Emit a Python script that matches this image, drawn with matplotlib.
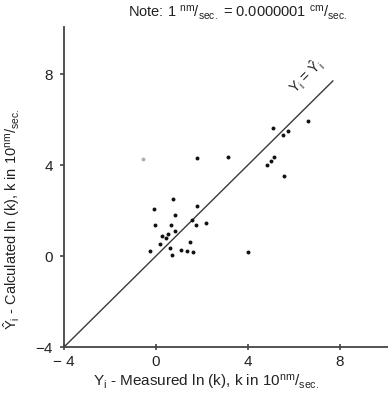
import matplotlib
matplotlib.use("Agg")
import matplotlib.pyplot as plt

# Measured (x) vs calculated (y) ln(k)
measured = [1.77, 3.12, 0.75, -0.10, 1.78, 0.83, -0.04, 0.65, 1.57, 1.73, 2.19,
            0.83, 0.51, 0.26, 0.42, 0.17, 0.62, 1.48, -0.27, 1.09, 1.35, 1.61,
            0.71, 3.99, 5.11, 5.52, 5.73, 6.63, 4.83, 4.99, 5.14, 5.59]
calculated = [4.31, 4.34, 2.52, 2.05, 2.18, 1.82, 1.38, 1.38, 1.60, 1.35, 1.45,
              1.09, 0.97, 0.87, 0.79, 0.53, 0.35, 0.60, 0.21, 0.28, 0.21, 0.16,
              0.04, 0.16, 5.61, 5.33, 5.51, 5.96, 4.01, 4.18, 4.34, 3.50]
faint_x = [-0.58]
faint_y = [4.28]
line_ends = [-4, 7.7]
xticks = [-4, 0, 4, 8]
yticks = [-4, 0, 4, 8]

plt.rcParams['font.family'] = ['Liberation Sans', 'DejaVu Sans']
plt.rcParams['mathtext.fontset'] = 'custom'
plt.rcParams['mathtext.rm'] = 'Liberation Sans'
plt.rcParams['mathtext.it'] = 'Liberation Sans'

fig = plt.figure(figsize=(3.88, 3.95), dpi=100)
ax = fig.add_axes([0.165, 0.1215, 0.835, 0.81])
ax.set_xlim(-4, 10.1)
ax.set_ylim(-4, 10.07)

ax.plot(line_ends, line_ends, color='#3a3a3a', lw=1.0)
ax.scatter(measured, calculated, s=8, color='#111111', zorder=3, linewidths=0)
ax.scatter(faint_x, faint_y, s=8, color='#b0b0b0', zorder=3, linewidths=0)

for s in ['top', 'right']:
    ax.spines[s].set_visible(False)
for s in ['left', 'bottom']:
    ax.spines[s].set_color('#444444')
    ax.spines[s].set_linewidth(1.3)

ax.set_xticks(xticks)
ax.set_yticks(yticks)
ax.set_xticklabels(['\u2212 4', '0', '4', '8'])
ax.set_yticklabels(['\u22124', '0', '4', '8'])
ax.tick_params(axis='x', direction='inout', length=4, width=1.2, colors='#444444',
               labelcolor='#222222', labelsize=11, pad=4)
ax.tick_params(axis='y', direction='out', length=3, width=1.2, colors='#444444',
               labelcolor='#222222', labelsize=11, pad=5)

ax.set_xlabel(r'Y$_\mathrm{i}$ - Measured ln (k), k in 10$^{\mathrm{nm}}$/$_{\mathrm{sec.}}$',
              fontsize=11, color='#222222')
ax.xaxis.set_label_coords(0.44, -0.08)
ax.set_ylabel(r'$\hat{\mathrm{Y}}_\mathrm{i}$ - Calculated ln (k), k in 10$^{\mathrm{nm}}$/$_{\mathrm{sec.}}$',
              fontsize=10.5, color='#222222')
ax.yaxis.set_label_coords(-0.13, 0.40)

fig.text(0.612, 0.967, r'Note: 1 $^{\mathrm{nm}}$/$_{\mathrm{sec.}}$ = 0.0000001 $^{\mathrm{cm}}$/$_{\mathrm{sec.}}$',
         fontsize=10.5, color='#222222', ha='center', va='center')

ax.text(6.55, 7.9, r'Y$_\mathrm{i}$ = $\hat{\mathrm{Y}}_\mathrm{i}$', rotation=45,
        fontsize=10, color='#222222', ha='center', va='center')

fig.savefig('out.png', dpi=100)
